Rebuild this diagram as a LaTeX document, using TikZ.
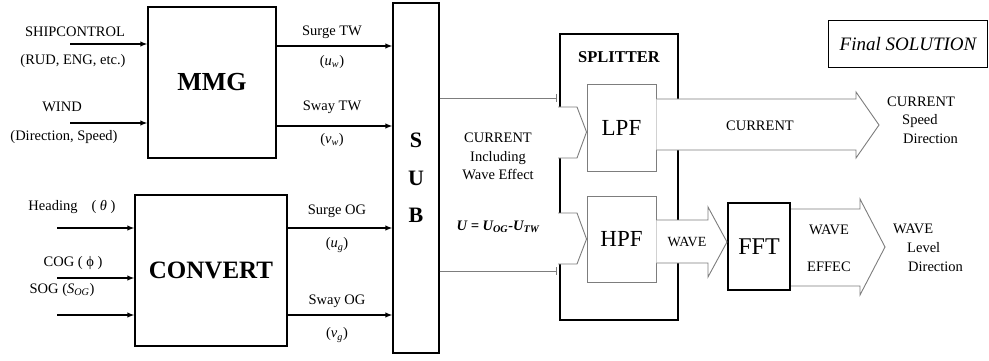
\documentclass[tikz,border=0pt]{standalone}
\usepackage{fontspec}
\setmainfont{Liberation Serif}
\usetikzlibrary{arrows.meta,calc}
\definecolor{lg}{RGB}{125,125,125}
\begin{document}
\begin{tikzpicture}[x=1pt,y=-1pt,
  box/.style={draw=black,line width=1.3pt,inner sep=0pt,fill=white},
  gbox/.style={draw=lg,line width=0.9pt,inner sep=0pt,fill=white},
  arr/.style={-{Latex[length=7pt,width=5.5pt]},line width=1.3pt},
  lbl/.style={font=\fontsize{14.5}{16}\selectfont,inner sep=0pt},
  blk/.style={draw=lg,line width=0.9pt,fill=white,line join=miter},
]
\useasboundingbox (0,0) rectangle (989,361);

% main blocks
\node[box,minimum width=128pt,minimum height=151pt,font=\bfseries\fontsize{26}{30}\selectfont] (mmg) at (212,82.5) {MMG};
\node[box,minimum width=152pt,minimum height=151pt,font=\bfseries\fontsize{25}{30}\selectfont] (conv) at (211,270.5) {CONVERT};
\node[box,minimum width=46pt,minimum height=350pt,align=center,font=\bfseries\fontsize{22}{37.5}\selectfont] (sub) at (416,178) {S\\U\\B};

% inputs
\coordinate (inA) at (70,44);
\coordinate (inB) at (70,123);
\coordinate (inC) at (57,228);
\coordinate (inD) at (57,278);
\coordinate (inE) at (57,315);
\draw[arr] (inA) -- (inA -| mmg.west);
\draw[arr] (inB) -- (inB -| mmg.west);
\draw[arr] (inC) -- (inC -| conv.west);
\draw[arr] (inD) -- (inD -| conv.west);
\draw[arr] (inE) -- (inE -| conv.west);
\node[lbl] (t1) at (75,32) {SHIPCONTROL};
\node[lbl] (t2) at (73,61) {(RUD, ENG, etc.)};
\node[lbl] (t3) at (62,107) {WIND};
\node[lbl] (t4) at (64,137) {(Direction, Speed)};
\node[lbl] (t5) at (72,207) {Heading\hspace{14pt}( \textit{θ} )};
\node[lbl] (t6) at (73,263) {COG ( ϕ )};
\node[lbl] (t7) at (62,290) {SOG (\textit{S}\textsubscript{\textit{OG}})};

% outputs to SUB
\coordinate (oA) at (276,46);
\coordinate (oB) at (276,126);
\coordinate (oC) at (287,228);
\coordinate (oD) at (287,315);
\draw[arr] (oA -| mmg.east) -- (oA -| sub.west);
\draw[arr] (oB -| mmg.east) -- (oB -| sub.west);
\draw[arr] (oC -| conv.east) -- (oC -| sub.west);
\draw[arr] (oD -| conv.east) -- (oD -| sub.west);
\node[lbl] (s1) at (332,32) {Surge TW};
\node[lbl] (s2) at (332,62) {(\textit{u}\textsubscript{\textit{w}})};
\node[lbl] (s3) at (332,107) {Sway TW};
\node[lbl] (s4) at (332,140) {(\textit{v}\textsubscript{\textit{w}})};
\node[lbl] (s5) at (337,211) {Surge OG};
\node[lbl] (s6) at (337,245) {(\textit{u}\textsubscript{\textit{g}})};
\node[lbl] (s7) at (337,301) {Sway OG};
\node[lbl] (s8) at (337,335) {(\textit{v}\textsubscript{\textit{g}})};

% big arrow from SUB
\coordinate (bA) at (439,98);
\coordinate (bB) at (439,271);
\coordinate (bA2) at (556,98);
\coordinate (bB2) at (556,271);
\draw[lg,line width=0.9pt] (bA -| sub.east) -- (bA2);
\draw[lg,line width=0.9pt] (bB -| sub.east) -- (bB2);
\draw[lg,line width=1pt] ($(bA2)+(0,-4)$) -- ($(bA2)+(0,4)$);
\draw[lg,line width=1pt] ($(bB2)+(0,-4)$) -- ($(bB2)+(0,4)$);
\node[lbl,align=center,font=\fontsize{14.5}{18.5}\selectfont] (cur) at (498,156.5) {CURRENT\\Including\\Wave Effect};
\node[lbl,font=\bfseries\itshape\fontsize{14.5}{16}\selectfont] (ueq) at (498,227) {U = U\textsubscript{OG}-U\textsubscript{TW}};

% splitter
\node[box,minimum width=118pt,minimum height=286pt] (spl) at (619,177) {};
\node[lbl,font=\bfseries\fontsize{16.5}{18}\selectfont] (splt) at (619,57) {SPLITTER};
\node[gbox,minimum width=69pt,minimum height=87pt,font=\fontsize{23}{26}\selectfont] (lpf) at (621.5,127.5) {LPF};
\node[gbox,minimum width=69pt,minimum height=86pt,font=\fontsize{23}{26}\selectfont] (hpf) at (621.5,239) {HPF};

% chevrons into filters
\path[blk] (558,107) -- (577,107) -- (lpf.west |- 0,132) -- (577,158) -- (558,158);
\path[blk] (558,213) -- (577,213) -- (hpf.west |- 0,239) -- (577,264) -- (558,264);

% FFT
\node[box,line width=2pt,minimum width=62pt,minimum height=87pt,font=\fontsize{24}{26}\selectfont] (fft) at (759,246.5) {FFT};

% block arrows
\path[blk] (lpf.east |- 0,99) -- (856,99) -- (856,92) -- (879,125) -- (856,158) -- (856,150) -- (lpf.east |- 0,150);
\path[blk] (hpf.east |- 0,220) -- (708,220) -- (708,207) -- (fft.west |- 0,242) -- (708,277) -- (708,263) -- (hpf.east |- 0,263);
\path[blk] (fft.east |- 0,209) -- (860,209) -- (860,199) -- (885,247) -- (860,295) -- (860,286) -- (fft.east |- 0,286);
\node[lbl] (c1) at (760,126) {CURRENT};
\node[lbl,font=\fontsize{14}{16}\selectfont] (w1) at (687,242) {WAVE};
\node[lbl] (w2) at (829,230) {WAVE};
\node[lbl] (w3) at (829,267) {EFFEC};

% output labels
\node[lbl,anchor=west] (r1) at (887,102) {CURRENT};
\node[lbl,anchor=west] (r2) at (902,121) {Speed};
\node[lbl,anchor=west] (r3) at (903,139) {Direction};
\node[lbl,anchor=west] (r4) at (893,229) {WAVE};
\node[lbl,anchor=west] (r5) at (907,248) {Level};
\node[lbl,anchor=west] (r6) at (908,267) {Direction};

% final solution
\node[draw=black,line width=1pt,minimum width=159pt,minimum height=47pt,inner sep=0pt,font=\itshape\fontsize{19}{22}\selectfont] (fin) at (908,44.5) {Final SOLUTION};
\end{tikzpicture}
\end{document}
